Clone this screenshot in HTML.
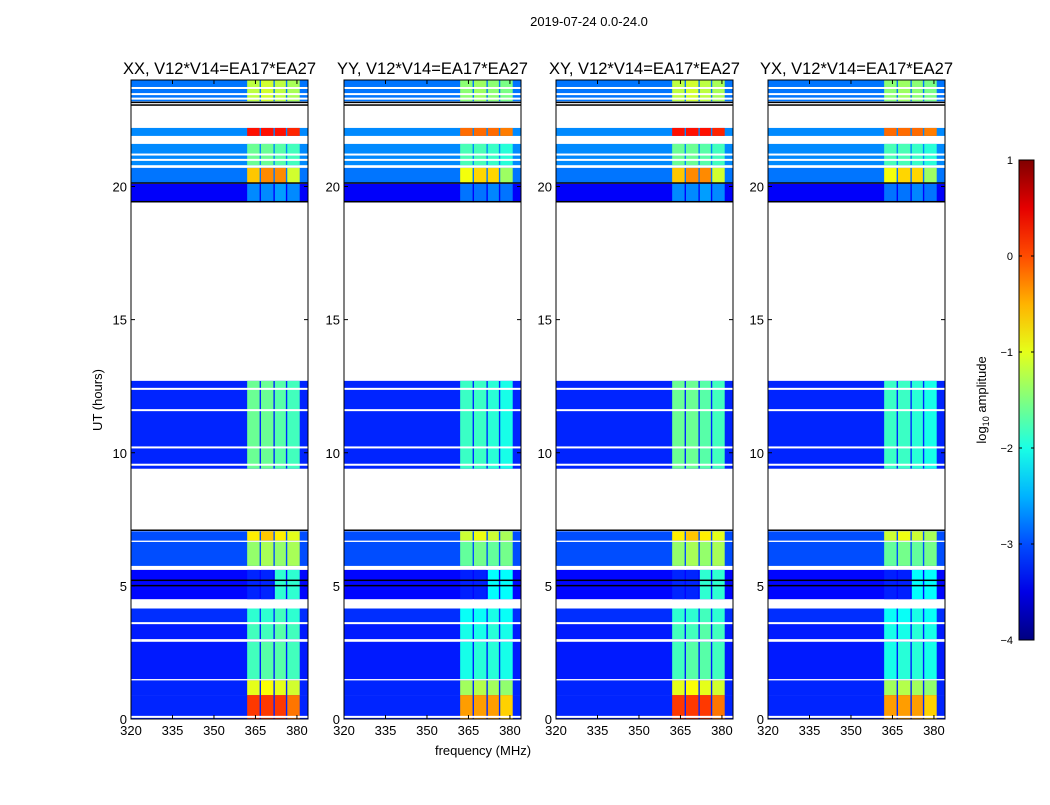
<!DOCTYPE html>
<html><head><meta charset="utf-8"><style>
body{margin:0;background:#fff;}
svg text{font-family:"Liberation Sans",sans-serif;}
</style></head><body>
<svg id="chart" width="1050" height="800" xmlns="http://www.w3.org/2000/svg">
<rect width="1050" height="800" fill="#fff"/>
<text x="589" y="26" font-size="13" text-anchor="middle">2019-07-24 0.0-24.0</text>
<text x="483" y="755" font-size="13" text-anchor="middle">frequency (MHz)</text>
<text transform="translate(102,400) rotate(-90)" font-size="13" text-anchor="middle">UT (hours)</text>
<g id="panels"></g>
<g id="cbar"></g>
</svg>
<script>
const panelNames=["XX, V12*V14=EA17*EA27","YY, V12*V14=EA17*EA27","XY, V12*V14=EA17*EA27","YX, V12*V14=EA17*EA27"];
const panelLeft=[131,344,556,768];
const panelGain=[1,0.85,1,0.85];
const xTicks=[320,335,350,365,380];
const yTicks=[0,5,10,15,20];
const cbTicks=[1,0,-1,-2,-3,-4];
// segments: [tStart, tEnd, baseLevel, ch1, ch2, ch3, ch4] (log10 amplitude)
const segStart=[0.0,0.9,1.5,3.0,3.6,4.5,5.75,6.7,9.4,19.4,20.15,20.8,21.9,23.2];
const segEnd=[0.9,1.45,2.9,3.6,4.15,5.6,6.65,7.05,12.7,20.1,20.7,21.6,22.2,24.0];
const segBase=[-3.2,-3.2,-3.25,-3.25,-3.15,-3.35,-3.0,-3.0,-3.2,-3.4,-2.8,-2.7,-2.7,-2.8];
const segCh1=[0.1,-1.0,-1.8,-1.8,-1.9,-3.2,-1.4,-0.8,-1.6,-2.7,-0.6,-1.6,0.3,-1.2];
const segCh2=[0.1,-0.9,-1.7,-1.8,-1.9,-3.2,-1.3,-0.6,-1.6,-2.7,-0.3,-1.6,0.3,-1.1];
const segCh3=[0.1,-1.0,-1.7,-1.7,-1.8,-1.9,-1.4,-0.8,-1.7,-2.6,-0.3,-1.7,0.3,-1.2];
const segCh4=[-0.2,-1.1,-1.8,-1.8,-1.9,-1.9,-1.3,-1.0,-1.8,-2.7,-1.1,-1.8,0.2,-1.3];
const chLo=[362,367,372,376.5];
const chHi=[366.5,371.5,376,381];
const whiteLines=[0.08,3.6,9.55,10.2,11.6,12.4,21.0,21.2,23.3,23.47,23.7];
const blackLines=[5.0,5.2,7.08,20.12,19.42,23.05,23.15];
const NS="http://www.w3.org/2000/svg";
const W=177,T=80,B=719,F0=320,F1=384,H0=0,H1=24;
function ys(h){return B-(h-H0)/(H1-H0)*(B-T);}
function xs(f,L){return L+(f-F0)/(F1-F0)*W;}
function jet(l){let v=(l+4)/5;v=Math.max(0,Math.min(1,v));
 const c=x=>Math.round(255*Math.max(0,Math.min(1,1.5-Math.abs(x))));
 return `rgb(${c(4*v-3)},${c(4*v-2)},${c(4*v-1)})`;}
function el(tag,attrs,parent){const e=document.createElementNS(NS,tag);for(const k in attrs)e.setAttribute(k,attrs[k]);parent.appendChild(e);return e;}
const pg=document.getElementById('panels');
panelLeft.forEach((L,p)=>{
 const g=el('g',{},pg);
 
 
 const k=panelGain[p];
 segStart.forEach((s,i)=>{
  const y0=ys(segEnd[i]),y1=ys(s);
  const r=el('rect',{x:L,y:y0,width:W,height:y1-y0,fill:jet(segBase[i])},g);
  
  
  [segCh1,segCh2,segCh3,segCh4].forEach((arr,c)=>{
   const lv=segBase[i]+(arr[i]-segBase[i])*k;
   const cr=el('rect',{x:xs(chLo[c],L),y:y0,width:xs(chHi[c],L)-xs(chLo[c],L),height:y1-y0,fill:jet(lv)},g);
   
   
  });
 });
 whiteLines.forEach(h=>{const r=el('rect',{x:L,y:ys(h)-1,width:W,height:2,fill:'#fff'},g);
  
  });
 blackLines.forEach(h=>{const r=el('rect',{x:L,y:ys(h)-1,width:W,height:1.5,fill:'#000'},g);
  
  });
 el('rect',{x:L,y:T,width:W,height:B-T,fill:'none',stroke:'#000','stroke-width':1},g);
 const t=el('text',{x:L+W/2,y:74,'font-size':16.5,'text-anchor':'middle'},g);t.textContent=panelNames[p];
 
 
 xTicks.forEach(f=>{const x=xs(f,L);
  el('line',{x1:x,x2:x,y1:B,y2:B-4,stroke:'#000'},g);el('line',{x1:x,x2:x,y1:T,y2:T+4,stroke:'#000'},g);
  const tx=el('text',{x:x,y:B+16,'font-size':13,'text-anchor':'middle'},g);tx.textContent=f;
  
  });
 yTicks.forEach(h=>{const y=ys(h);
  el('line',{x1:L,x2:L+4,y1:y,y2:y,stroke:'#000'},g);el('line',{x1:L+W,x2:L+W-4,y1:y,y2:y,stroke:'#000'},g);
  const ty=el('text',{x:L-4,y:y+5,'font-size':13,'text-anchor':'end'},g);ty.textContent=h;
  
  });
});
// colorbar
const cb=document.getElementById('cbar');
const CX=1019,CW=15,CT=160,CB=640;
const defs=el('defs',{},cb);
const lg=el('linearGradient',{id:'jetg',x1:0,y1:1,x2:0,y2:0},defs);
for(let i=0;i<=10;i++){el('stop',{offset:i/10,'stop-color':jet(-4+5*i/10)},lg);}
const cbr=el('rect',{x:CX,y:CT,width:CW,height:CB-CT,fill:'url(#jetg)',stroke:'#000'},cb);


cbTicks.forEach(v=>{const y=CB-(v+4)/5*(CB-CT);
 el('line',{x1:CX,x2:CX+3,y1:y,y2:y,stroke:'#000'},cb);el('line',{x1:CX+CW,x2:CX+CW-3,y1:y,y2:y,stroke:'#000'},cb);
 const t=el('text',{x:CX-6,y:y+4,'font-size':11,'text-anchor':'end'},cb);t.textContent=(v<0?'\u2212':'')+Math.abs(v);
 
 });
const cl=el('text',{transform:'translate(986,400) rotate(-90)','font-size':13,'text-anchor':'middle'},cb);
cl.innerHTML='log<tspan font-size="9" dy="3">10</tspan><tspan dy="-3"> amplitude</tspan>';


</script>
</body></html>
